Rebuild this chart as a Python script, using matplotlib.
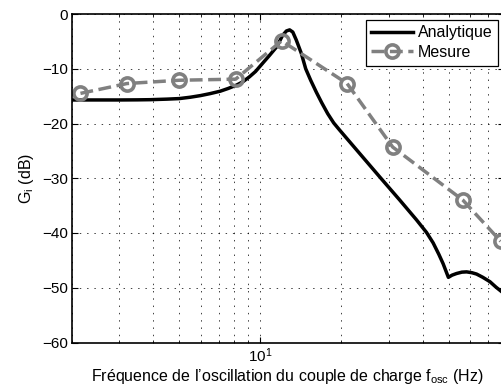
import numpy as np
import matplotlib
matplotlib.use('Agg')
import matplotlib.pyplot as plt
from matplotlib.ticker import LogLocator, NullFormatter, FixedLocator

# fonts (Arial-like)
plt.rcParams['font.family'] = ['Liberation Sans', 'DejaVu Sans']
plt.rcParams['mathtext.fontset'] = 'custom'
plt.rcParams['mathtext.rm'] = 'Liberation Sans'
plt.rcParams['mathtext.it'] = 'Liberation Sans'
plt.rcParams['font.size'] = 11

# analytic response
f_analytique = [2.0, 2.5, 3.0, 3.5, 3.9, 4.5, 5.0, 5.5, 6.0, 6.5, 7.1, 7.6,
                8.15, 8.6, 9.1, 9.6, 10.2, 10.8, 11.5, 12.1, 12.5, 12.85, 13.2,
                13.6, 14.2, 14.74, 15.38, 16.15, 16.9, 17.79, 18.73, 19.7, 23.4,
                27.8, 32.95, 38.0, 41.4, 43.8, 46.0, 47.7, 49.9, 51.5, 53.5,
                56.0, 58.3, 61.0, 63.5, 67.0, 71.2, 75.0, 80.0]
g_analytique = [-15.7, -15.7, -15.7, -15.68, -15.65, -15.55, -15.45, -15.2,
                -14.9, -14.55, -14.1, -13.6, -13.0, -12.4, -11.5, -10.5, -9.0,
                -7.6, -6.0, -3.9, -3.1, -2.9, -3.3, -4.75, -7.2, -10.0, -12.1,
                -14.3, -16.2, -18.2, -19.9, -21.2, -25.5, -29.8, -34.0, -37.6,
                -39.9, -41.8, -43.9, -45.6, -48.1, -47.7, -47.4, -47.15, -47.1,
                -47.25, -47.5, -48.1, -48.9, -49.9, -51.0]

# measured points
f_mesure = [2.15, 3.2, 5.0, 8.1, 12.0, 21.0, 31.0, 56.5, 78.0]
g_mesure = [-14.5, -12.7, -12.1, -11.9, -4.9, -12.7, -24.3, -34.0, -41.5]

y_ticks = [-60, -50, -40, -30, -20, -10, 0]

fig = plt.figure(figsize=(5.01, 3.92), dpi=100)
# axes slightly wider than the figure: right edge is cut off in the reference
ax = fig.add_axes([72 / 501, 49.5 / 392, (503.6 - 72) / 501, (342.5 - 14) / 392])

ax.plot(f_analytique, g_analytique, '-', color='black', lw=2.5, label='Analytique')
ax.plot(f_mesure, g_mesure, '--', color='#808080', lw=2.5, marker='o', ms=9.5,
        mfc='none', mec='#808080', mew=2.6, label='Mesure')

ax.set_xscale('log')
ax.set_xlim(2, 80)
ax.set_ylim(-60, 0)
ax.yaxis.set_major_locator(FixedLocator(y_ticks))
ax.set_yticklabels(['\u2212%d' % -v if v < 0 else '%d' % v for v in y_ticks])
ax.xaxis.set_major_locator(LogLocator(base=10))
ax.xaxis.set_minor_locator(LogLocator(base=10, subs=np.arange(2, 10)))
ax.xaxis.set_minor_formatter(NullFormatter())

grid_ls = (0, (1.5, 6))
ax.grid(True, which='major', ls=grid_ls, color='black', lw=0.7, alpha=0.75)
ax.grid(True, which='minor', axis='x', ls=grid_ls, color='black', lw=0.7, alpha=0.75)
ax.tick_params(which='both', direction='in', top=True, right=True)
ax.tick_params(which='major', length=4, labelsize=11, pad=3)
ax.tick_params(which='minor', length=2)
for s in ax.spines.values():
    s.set_linewidth(1.2)

ax.set_xlabel('Fr\u00e9quence de l\u2019oscillation du couple de charge f$_{\\mathrm{osc}}$ (Hz)',
              fontsize=11.5, labelpad=1)
ax.set_ylabel('G$_{\\mathrm{i}}$ (dB)', fontsize=11.5, labelpad=4)

leg = ax.legend(loc='upper right', borderaxespad=0.35, fancybox=False,
                edgecolor='black', framealpha=1, handlelength=2.6,
                borderpad=0.35, labelspacing=0.3, handletextpad=0.3,
                fontsize=11.5)
leg.get_frame().set_linewidth(0.9)

fig.savefig('out.png', dpi=100)
